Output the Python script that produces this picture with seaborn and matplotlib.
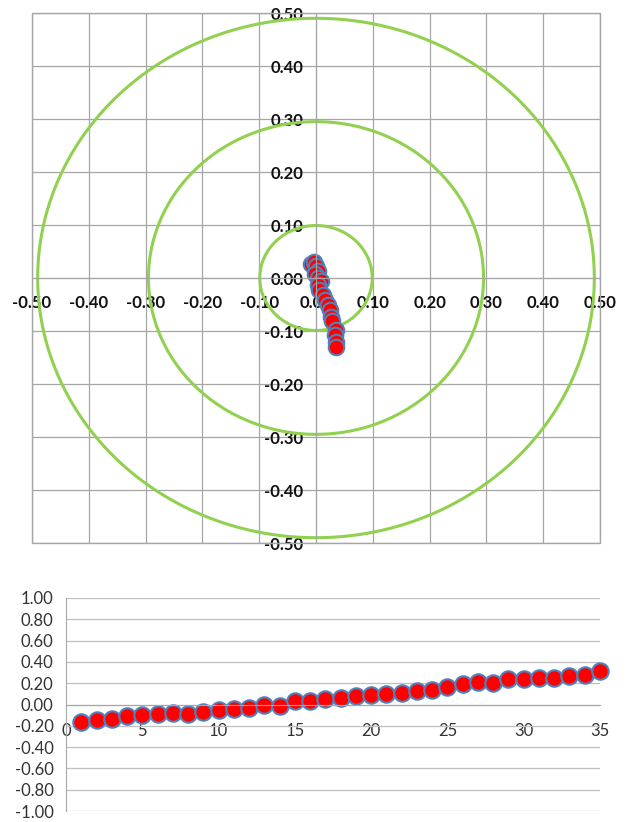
import numpy as np
import pandas as pd
import matplotlib.pyplot as plt
import matplotlib.ticker as mticker
from matplotlib.patches import Rectangle
import seaborn as sns

sns.set_style("white")
plt.rcParams['font.family'] = ['Lato', 'DejaVu Sans']
plt.rcParams['axes.unicode_minus'] = False

# top chart: points close to the centre
top_x = [-0.009, -0.003, 0.000, 0.003, -0.001, 0.004, 0.009, 0.003, 0.006, 0.012,
         0.015, 0.021, 0.024, 0.026, 0.029, 0.035, 0.034, 0.035, 0.035]
top_y = [0.027, 0.031, 0.023, 0.014, 0.008, 0.000, -0.006, -0.014, -0.023, -0.033,
         -0.042, -0.050, -0.061, -0.074, -0.082, -0.099, -0.108, -0.121, -0.130]
ring_radius = [0.099, 0.295, 0.49]
top_ticks = [-0.5, -0.4, -0.3, -0.2, -0.1, 0.0, 0.1, 0.2, 0.3, 0.4, 0.5]

# bottom chart: one value per index
idx = list(range(1, 36))
values = [-0.16, -0.15, -0.14, -0.11, -0.10, -0.09, -0.08, -0.09, -0.07, -0.05,
          -0.04, -0.03, 0.00, -0.01, 0.03, 0.03, 0.05, 0.06, 0.08, 0.09,
          0.10, 0.11, 0.13, 0.14, 0.16, 0.19, 0.21, 0.20, 0.24, 0.24,
          0.25, 0.25, 0.27, 0.28, 0.31]
bottom_xticks = [0, 5, 10, 15, 20, 25, 30, 35]
bottom_yticks = [-1.0, -0.8, -0.6, -0.4, -0.2, 0.0, 0.2, 0.4, 0.6, 0.8, 1.0]

red = '#FF0000'
blue_edge = '#4F81BD'
green = '#92D050'
grid_col = '#A6A6A6'

fig = plt.figure(figsize=(6.3, 8.22), dpi=100)

# ---- top chart
ax = fig.add_axes([32/630, 1-543/822, 568/630, 530/822])
ax.set_xlim(-0.5, 0.5)
ax.set_ylim(-0.5, 0.5)
ax.set_xticks(top_ticks)
ax.set_yticks(top_ticks)
ax.grid(True, color=grid_col, linewidth=0.9)
ax.set_axisbelow(True)

theta = np.linspace(0, 2 * np.pi, 300)
for r in ring_radius:
    ax.plot(r * np.cos(theta), r * np.sin(theta), color=green, linewidth=2.2, zorder=1.5)

df_top = pd.DataFrame({'x': top_x, 'y': top_y})
sns.scatterplot(data=df_top, x='x', y='y', ax=ax, s=125, color=red,
                edgecolor=blue_edge, linewidth=1.5, zorder=2)

for side in ['top', 'right']:
    ax.spines[side].set_visible(False)
ax.spines['left'].set_position('zero')
ax.spines['bottom'].set_position('zero')
ax.spines['left'].set_color(grid_col)
ax.spines['bottom'].set_color(grid_col)
ax.add_patch(Rectangle((0, 0), 1, 1, transform=ax.transAxes, fill=False,
                       edgecolor=grid_col, linewidth=1, clip_on=False, zorder=3))
ax.xaxis.set_major_formatter(mticker.FormatStrFormatter('%.2f'))
ax.yaxis.set_major_formatter(mticker.FormatStrFormatter('%.2f'))
ax.tick_params(axis='x', length=0, pad=12, labelsize=12, labelcolor='#111111')
ax.tick_params(axis='y', length=0, pad=9, labelsize=12, labelcolor='#111111')
for lab in ax.get_xticklabels() + ax.get_yticklabels():
    lab.set_fontweight('bold')
ax.set_xlabel('')
ax.set_ylabel('')

# ---- bottom chart
ax2 = fig.add_axes([66/630, 1-811/822, 534/630, 213/822])
df_bot = pd.DataFrame({'idx': idx, 'value': values})
sns.scatterplot(data=df_bot, x='idx', y='value', ax=ax2, s=140, color=red,
                edgecolor=blue_edge, linewidth=1.5, zorder=2, clip_on=False)
ax2.set_xlim(0, 35)
ax2.set_ylim(-1.0, 1.0)
ax2.set_xticks(bottom_xticks)
ax2.set_yticks(bottom_yticks)
ax2.yaxis.grid(True, color='#BFBFBF', linewidth=0.9)
ax2.set_axisbelow(True)
ax2.spines['top'].set_visible(False)
ax2.spines['right'].set_visible(False)
ax2.spines['bottom'].set_position('zero')
ax2.spines['left'].set_color('#A6A6A6')
ax2.spines['bottom'].set_color('#A6A6A6')
ax2.yaxis.set_major_formatter(mticker.FormatStrFormatter('%.2f'))
ax2.tick_params(axis='y', length=4, color='#A6A6A6', pad=5, labelsize=12, labelcolor='#333333')
ax2.tick_params(axis='x', length=4, color='#A6A6A6', pad=9, labelsize=12, labelcolor='#333333')
ax2.set_xlabel('')
ax2.set_ylabel('')

fig.savefig('out.png', dpi=100)
